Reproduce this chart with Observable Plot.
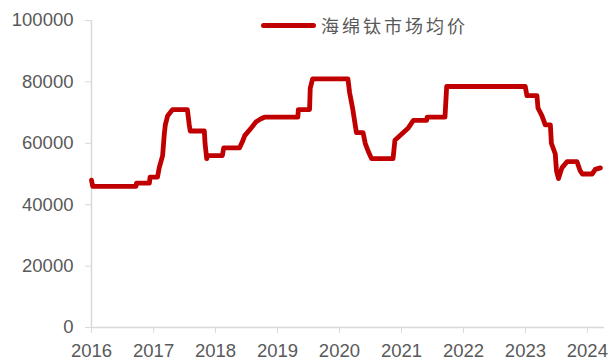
<!DOCTYPE html>
<html><head><meta charset="utf-8">
<script src="https://cdn.jsdelivr.net/npm/d3@7"></script>
<script src="https://cdn.jsdelivr.net/npm/@observablehq/plot@0.6"></script>
<style>
body{margin:0;background:#fff;}
#wrap{position:relative;width:611px;height:360px;}
#legend{position:absolute;left:261px;top:12px;display:flex;align-items:center;font-family:"Noto Sans CJK SC",sans-serif;font-size:18px;color:#595959;letter-spacing:3px;}
#legend .sw{width:55px;height:5px;background:#c00000;border-radius:3px;margin-right:5px;}
</style></head>
<body><div id="wrap"><div id="legend"><span class="sw"></span><span>海绵钛市场均价</span></div></div>
<script>
const seriesName = "海绵钛市场均价";
const dates = ["2016-01-01","2016-01-08","2016-09-19","2016-09-22","2016-12-07","2016-12-11","2017-01-24","2017-02-03","2017-02-23","2017-03-05","2017-03-11","2017-03-25","2017-04-23","2017-07-19","2017-07-30","2017-08-05","2017-10-27","2017-10-31","2017-11-10","2017-11-16","2018-02-10","2018-02-18","2018-05-22","2018-06-08","2018-06-22","2018-07-30","2018-08-28","2018-09-26","2018-10-16","2019-05-01","2019-05-04","2019-07-09","2019-07-13","2019-07-27","2020-02-20","2020-03-01","2020-03-20","2020-04-10","2020-05-19","2020-06-01","2020-06-18","2020-07-08","2020-11-12","2020-11-23","2021-01-02","2021-02-10","2021-03-12","2021-05-29","2021-06-01","2021-09-14","2021-09-24","2022-12-31","2023-01-10","2023-03-10","2023-03-16","2023-04-08","2023-04-28","2023-05-28","2023-06-03","2023-06-26","2023-07-03","2023-07-15","2023-08-04","2023-09-03","2023-11-01","2023-11-20","2023-12-03","2024-01-29","2024-02-17","2024-03-18"];
const prices = [48000,46000,46000,47000,47000,49000,49000,52000,56000,63000,66000,69000,71000,71000,66000,64000,64000,60000,55000,56000,56000,58500,58500,60500,62500,65000,67000,68000,68500,68500,71000,71000,78000,81000,81000,76500,71000,63500,63500,60000,57500,55000,55000,61000,63000,65000,67500,67500,68500,68500,78500,78500,75500,75500,71500,69000,66000,66000,60000,56500,51000,48500,52000,54000,54000,51000,50000,50000,51500,52000];
const yearTicks = ["2016","2017","2018","2019","2020","2021","2022","2023","2024"];
const yTicks = [0,20000,40000,60000,80000,100000];

const parse = d3.utcParse("%Y-%m-%d");
const data = dates.map((d,i)=>({date: parse(d), value: prices[i]}));
const xTicks = yearTicks.map(y=>parse(y+"-01-01"));
const x0 = parse("2016-01-01"), x1 = parse("2024-04-11");
const font = "'Liberation Sans', Arial, sans-serif";

const chart = Plot.plot({
  width: 611, height: 360,
  marginLeft: 91, marginRight: 7, marginTop: 20, marginBottom: 33,
  style: {fontFamily: font, fontSize: "18.5px", color: "#595959", background: "#fff"},
  x: {type: "utc", domain: [x0, x1]},
  y: {domain: [0, 100000]},
  marks: [
    Plot.ruleY([0], {stroke: "#d9d9d9", strokeWidth: 1.5}),
    Plot.ruleX([x0], {stroke: "#d9d9d9", strokeWidth: 1.5}),
    Plot.axisX({ticks: xTicks, tickFormat: d3.utcFormat("%Y"), tickSize: 6, tickPadding: 10, stroke: "#d9d9d9", fill: "#595959", label: null}),
    Plot.axisY({ticks: yTicks, tickFormat: d=>String(d), tickSize: 6, tickPadding: 12, stroke: "#d9d9d9", fill: "#595959", label: null}),
    Plot.line(data, {x: "date", y: "value", stroke: "#c00000", strokeWidth: 4.8, strokeLinejoin: "round", strokeLinecap: "round"})
  ]
});
document.getElementById("wrap").prepend(chart);
</script></body></html>
